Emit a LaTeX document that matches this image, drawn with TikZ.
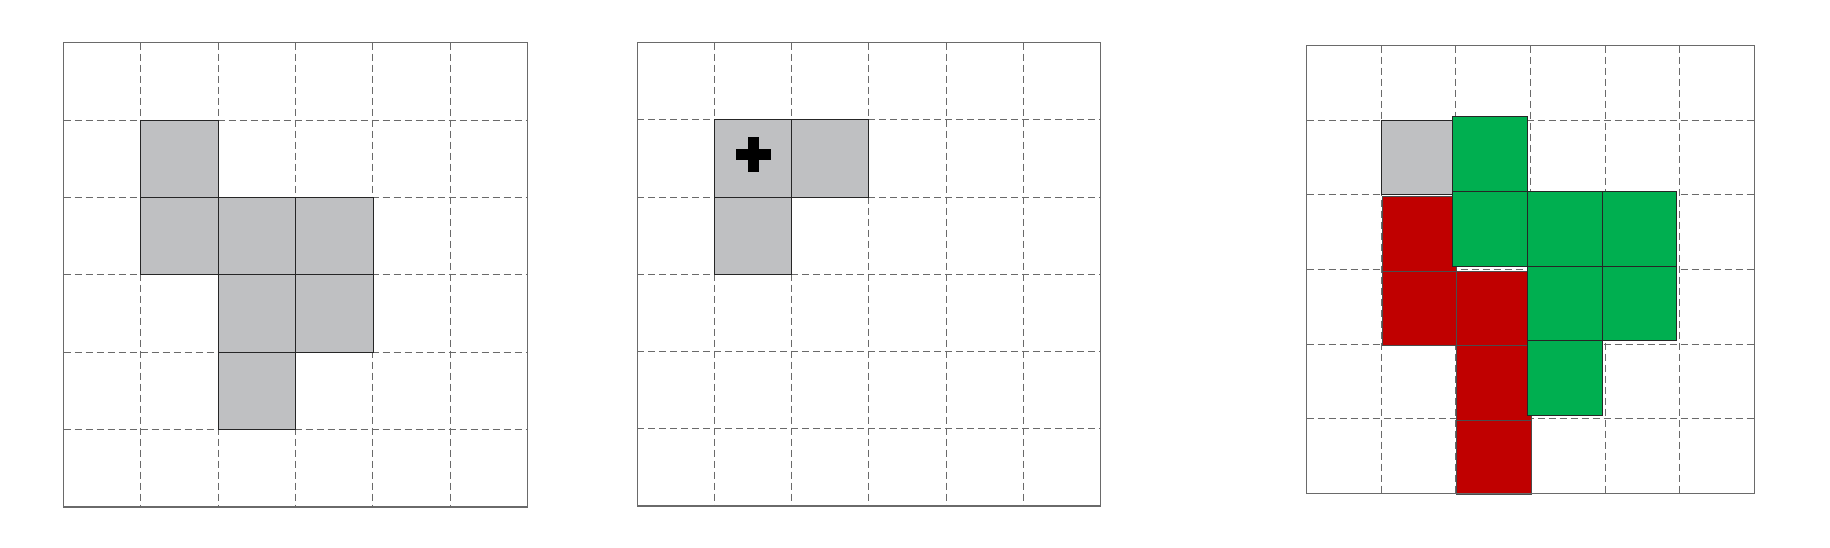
\documentclass[tikz,border=0pt]{standalone}
\definecolor{cellgray}{HTML}{BFC0C2}
\definecolor{cellred}{HTML}{C00000}
\definecolor{cellgreen}{HTML}{00AF50}
\definecolor{gridgray}{HTML}{6A6A6A}
\tikzset{
  outerframe/.style={draw=gridgray, line width=1.3pt},
  gridln/.style={draw=gridgray, line width=1pt, dash pattern=on 7pt off 4pt},
  cellbox/.style={draw=black!85, line width=0.9pt},
  graycell/.style={cellbox, fill=cellgray},
  redcell/.style={cellbox, draw=black!70, fill=cellred},
  greencell/.style={cellbox, fill=cellgreen},
  plusbar/.style={fill=black}
}
\begin{document}
\begin{tikzpicture}[x=1pt,y=-1pt]
\useasboundingbox (0,0) rectangle (1830,548);
% Grid 1
\begin{scope}[shift={(63.5,42.7)}, x=77.37pt, y=-77.37pt]
  \foreach \i in {1,...,5} {\draw[gridln] (\i,0) -- (\i,6); \draw[gridln] (0,\i) -- (6,\i);}
  \foreach \c/\r in {1/1,1/2,2/2,3/2,2/3,3/3,2/4} \draw[graycell] (\c,\r) rectangle ++(1,1);
  \draw[outerframe] (0,0) rectangle (6,6);
\end{scope}
% Grid 2
\begin{scope}[shift={(637.3,42.7)}, x=77.2pt, y=-77.2pt]
  \foreach \i in {1,...,5} {\draw[gridln] (\i,0) -- (\i,6); \draw[gridln] (0,\i) -- (6,\i);}
  \foreach \c/\r in {1/1,2/1,1/2} \draw[graycell] (\c,\r) rectangle ++(1,1);
  \draw[outerframe] (0,0) rectangle (6,6);
\end{scope}
\fill[plusbar] (735.8,149.5) rectangle (770.8,160.5);
\fill[plusbar] (747.8,137.5) rectangle (758.8,172.5);
% Grid 3
\begin{scope}[shift={(1306.7,45.7)}, x=74.6pt, y=-74.6pt]
  \foreach \i in {1,...,5} {\draw[gridln] (\i,0) -- (\i,6); \draw[gridln] (0,\i) -- (6,\i);}
  \draw[graycell] (1,1) rectangle ++(1,1);
  \begin{scope}[xshift=1pt, yshift=-1.5pt]
    \foreach \c/\r in {1/2,1/3,2/3,2/4,2/5} \draw[redcell] (\c,\r) rectangle ++(1,1);
  \end{scope}
  \begin{scope}[xshift=-3pt, yshift=3.5pt]
    \foreach \c/\r in {2/1,2/2,3/2,4/2,3/3,4/3,3/4} \draw[greencell] (\c,\r) rectangle ++(1,1);
  \end{scope}
  \draw[outerframe] (0,0) rectangle (6,6);
\end{scope}
\end{tikzpicture}
\end{document}
